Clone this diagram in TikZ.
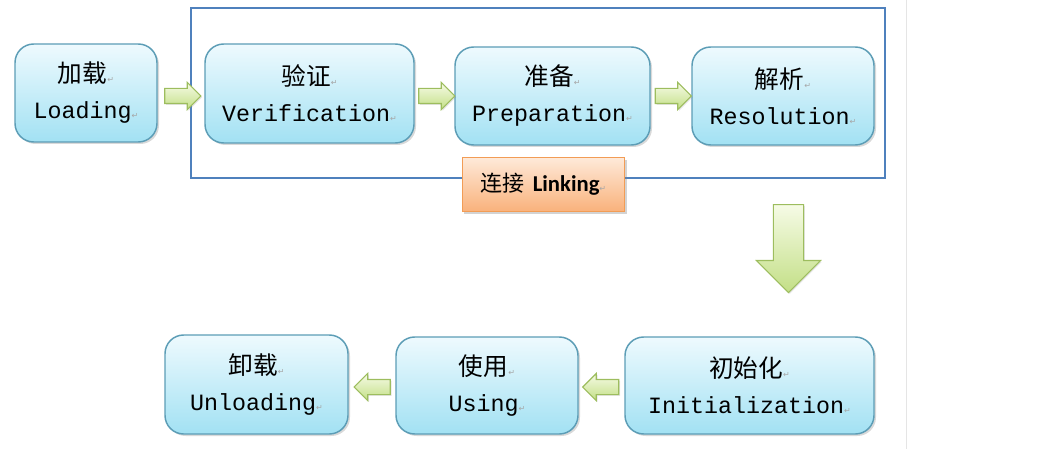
\documentclass[tikz,border=0pt]{standalone}
\usepackage{fontspec}
\setmainfont{Liberation Mono}
\newfontfamily\cjk{Noto Sans CJK SC}
\newfontfamily\symfont{DejaVu Sans}
\newfontfamily\linkfont{Carlito}
\usetikzlibrary{shapes.arrows,shadows,calc,positioning}

\definecolor{boxtop}{HTML}{EEFAFE}
\definecolor{boxbot}{HTML}{A2E1F3}
\definecolor{boxline}{HTML}{5C9DB6}
\definecolor{arrtop}{HTML}{F6FBE6}
\definecolor{arrbot}{HTML}{C3DF86}
\definecolor{arrline}{HTML}{9DBD5E}
\definecolor{orgtop}{HTML}{FEE9D8}
\definecolor{orgbot}{HTML}{F9B27C}
\definecolor{orgline}{HTML}{F29C55}
\definecolor{frameline}{HTML}{4F81BD}

\newcommand{\pmark}{{\symfont\fontsize{6}{6}\selectfont\color{gray!70}↵}}

\tikzset{
  stage/.style={draw=boxline, line width=1.1pt, rounded corners=14pt,
    top color=boxtop, bottom color=boxbot, align=center, inner sep=0pt,
    drop shadow={shadow xshift=1.5pt, shadow yshift=-1.5pt, opacity=.3, fill=gray},
    font=\fontsize{17.5}{27}\selectfont},
  flow/.style={single arrow, draw=arrline, line width=.8pt,
    top color=arrtop, bottom color=arrbot, inner sep=5.25pt,
    minimum height=27pt, minimum width=19.5pt, single arrow head extend=4.5pt,
    drop shadow={shadow xshift=1pt, shadow yshift=-1pt, opacity=.2, fill=gray}},
  linkbox/.style={draw=orgline, line width=.8pt, top color=orgtop, bottom color=orgbot,
    minimum width=122pt, minimum height=40pt, inner sep=0pt,
    drop shadow={shadow xshift=1.5pt, shadow yshift=-2pt, opacity=.35, fill=gray}}
}
\newcommand{\zh}[1]{{\cjk\fontsize{18.5}{27}\selectfont #1}}

\begin{document}
\begin{tikzpicture}[x=0.75pt, y=-0.75pt]
  \useasboundingbox (0,0) rectangle (1052,449);
  \draw[gray!20] (906,0) -- (906,449);

  % linking frame
  \draw[frameline, line width=.9pt] (191,8) rectangle (885,178);

  % stages
  \node[stage, minimum width=106.5pt, minimum height=73.5pt] (load) at (86,93)
    {\zh{加载}\pmark\\Loading\pmark};
  \node[stage, minimum width=156.75pt, minimum height=74.25pt] (verify) at (309.5,93.5)
    {\zh{验证}\pmark\\Verification\pmark};
  \node[stage, minimum width=146.25pt, minimum height=73.5pt] (prepare) at (552.5,96)
    {\zh{准备}\pmark\\Preparation\pmark};
  \node[stage, minimum width=136.5pt, minimum height=73.5pt] (resolve) at (783,96)
    {\zh{解析}\pmark\\Resolution\pmark};
  \node[linkbox] (link) at (543.5,184.5)
    {{\cjk\fontsize{16.5}{16.5}\selectfont 连接} {\linkfont\bfseries\fontsize{17}{17}\selectfont Linking}\pmark};

  \node[stage, minimum width=186.75pt, minimum height=72.75pt] (init) at (749.5,385.5)
    {\zh{初始化}\pmark\\Initialization\pmark};
  \node[stage, minimum width=136.5pt, minimum height=72.75pt] (use) at (487,385.5)
    {\zh{使用}\pmark\\Using\pmark};
  \node[stage, minimum width=137.25pt, minimum height=74.25pt] (unload) at (256.5,384.5)
    {\zh{卸载}\pmark\\Unloading\pmark};

  % block arrows
  \node[flow] (a1) at (179,96) {};
  \node[flow] (a2) at (433,96) {};
  \node[flow] (a3) at (669.5,96) {};
  \node[flow, inner sep=10.9pt, minimum height=66pt, minimum width=47.25pt,
    single arrow head extend=12.75pt, shape border rotate=270] (a4) at (788.5,241) {};
  \node[flow, shape border rotate=180] (a5) at (604.5,387) {};
  \node[flow, shape border rotate=180] (a6) at (376,387) {};
\end{tikzpicture}
\end{document}
